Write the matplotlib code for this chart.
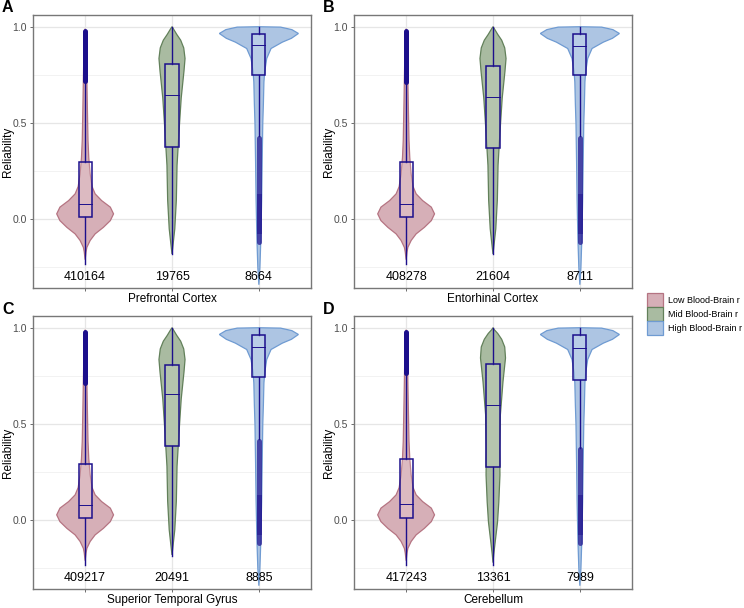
import matplotlib.pyplot as plt
from matplotlib.patches import Patch, Rectangle

plt.rcParams["font.family"] = ["Liberation Sans", "DejaVu Sans"]

# ---- data ----
panels = ["A", "B", "C", "D"]
regions = ["Prefrontal Cortex", "Entorhinal Cortex", "Superior Temporal Gyrus", "Cerebellum"]
groups = ["Low Blood-Brain r", "Mid Blood-Brain r", "High Blood-Brain r"]
counts = [[410164, 19765, 8664],
          [408278, 21604, 8711],
          [409217, 20491, 8885],
          [417243, 13361, 7989]]

# box stats per panel per group: (lower whisker, q1, median, q3, upper whisker)
box_stats = [
    [(-0.23, 0.01, 0.08, 0.30, 0.72), (-0.18, 0.375, 0.645, 0.805, 1.0), (0.43, 0.747, 0.905, 0.96, 1.0)],
    [(-0.23, 0.01, 0.08, 0.295, 0.715), (-0.18, 0.372, 0.637, 0.797, 1.0), (0.43, 0.747, 0.90, 0.96, 1.0)],
    [(-0.23, 0.012, 0.078, 0.294, 0.713), (-0.185, 0.386, 0.654, 0.805, 1.0), (0.42, 0.744, 0.899, 0.962, 1.0)],
    [(-0.23, 0.012, 0.082, 0.317, 0.765), (-0.23, 0.275, 0.598, 0.81, 1.0), (0.377, 0.727, 0.896, 0.962, 1.0)],
]
# outlier ranges (low group top, high group bottom)
low_outliers = [(0.72, 0.98), (0.715, 0.98), (0.713, 0.98), (0.765, 0.98)]
high_outliers = [(-0.12, 0.42), (-0.12, 0.42), (-0.12, 0.41), (-0.12, 0.37)]

# violin outlines: y levels and half widths (x units)
low_y = [-0.21, -0.17, -0.146, -0.11, -0.076, -0.042, -0.007, 0.028, 0.063, 0.097,
         0.132, 0.17, 0.236, 0.32, 0.41, 0.55, 0.7, 0.85, 0.95, 0.99]
low_w = [0.0, 0.01, 0.02, 0.058, 0.115, 0.21, 0.29, 0.327, 0.29, 0.19,
         0.115, 0.08, 0.058, 0.042, 0.033, 0.027, 0.021, 0.015, 0.01, 0.0]
mid_y = [-0.18, -0.12, -0.05, 0.1, 0.28, 0.45, 0.63, 0.77, 0.835, 0.89, 0.93, 0.96, 0.99, 1.0]
mid_w = [0.0, 0.015, 0.032, 0.05, 0.058, 0.08, 0.106, 0.138, 0.15, 0.135, 0.1, 0.055, 0.015, 0.0]
mid_y_d = [-0.22, -0.18, -0.113, -0.01, 0.095, 0.235, 0.374, 0.548, 0.72, 0.843, 0.9, 0.94, 0.97, 0.99, 1.0]
mid_w_d = [0.0, 0.008, 0.025, 0.052, 0.067, 0.08, 0.077, 0.085, 0.115, 0.144, 0.135, 0.1, 0.055, 0.015, 0.0]
high_y = [-0.34, -0.25, -0.11, 0.1, 0.3, 0.5, 0.6, 0.713, 0.766, 0.835, 0.887, 0.92, 0.94, 0.965, 0.985, 0.998, 1.0]
high_w = [0.0, 0.012, 0.022, 0.032, 0.038, 0.045, 0.052, 0.058, 0.067, 0.09, 0.14, 0.27, 0.375, 0.455, 0.38, 0.25, 0.0]

fills = ["#d6afb7", "#a9bba1", "#adc5e3"]
edges = ["#b57482", "#62805a", "#6f9bd2"]
navy = "#1c0f8c"

fig = plt.figure(figsize=(7.44, 6.08), dpi=100)
W, H = 744, 608
boxes = [(33, 15), (354, 15), (33, 316), (354, 316)]


def draw_violin(ax, x, ys, ws, fc, ec):
    xs = [x + w for w in ws] + [x - w for w in ws[::-1]]
    yy = list(ys) + list(ys[::-1])
    ax.fill(xs, yy, facecolor=fc, edgecolor=ec, lw=0.9, zorder=2)


for i, ax_name in enumerate(panels):
    left, top = boxes[i]
    ax = fig.add_axes([left / W, 1 - (top + 273) / H, 278 / W, 273 / H])
    ax.set_xlim(0.4, 3.6)
    ax.set_ylim(-0.357, 1.061)

    # grid
    for y in [0, 0.5, 1.0]:
        ax.axhline(y, color="#e6e6e6", lw=0.9, zorder=0)
    for y in [-0.25, 0.25, 0.75]:
        ax.axhline(y, color="#f0f0f0", lw=0.6, zorder=0)
    for x in [1, 2, 3]:
        ax.axvline(x, color="#e6e6e6", lw=0.9, zorder=0)

    profiles = [(low_y, low_w), (mid_y_d, mid_w_d) if ax_name == "D" else (mid_y, mid_w), (high_y, high_w)]
    for g in range(3):
        x = g + 1
        ys, ws = profiles[g]
        draw_violin(ax, x, ys, ws, fills[g], edges[g])
        lo, q1, med, q3, hi = box_stats[i][g]
        ax.plot([x, x], [lo, q1], color=navy, lw=1.0, zorder=3)
        ax.plot([x, x], [q3, hi], color=navy, lw=1.0, zorder=3)
        ax.add_patch(Rectangle((x - 0.075, q1), 0.15, q3 - q1, facecolor="white", alpha=0.15, zorder=3))
        ax.add_patch(Rectangle((x - 0.075, q1), 0.15, q3 - q1, facecolor="none", edgecolor=navy, lw=1.1, zorder=4))
        ax.plot([x - 0.075, x + 0.075], [med, med], color=navy, lw=0.7, zorder=4)
        ax.text(x, -0.30, f"{counts[i][g]}", ha="center", va="center", fontsize=9, zorder=5)

    # outliers
    a, b = low_outliers[i]
    ax.plot([1, 1], [a, b], color=navy, lw=3.6, solid_capstyle="round", zorder=5)
    a, b = high_outliers[i]
    ax.plot([3, 3], [a, b], color=navy, lw=3.6, alpha=0.7, solid_capstyle="round", zorder=5)
    ax.plot([3, 3], [-0.06, 0.12], color=navy, lw=3.6, alpha=0.5, zorder=5)

    ax.set_xticks([1, 2, 3])
    ax.set_xticklabels([])
    ax.set_yticks([0, 0.5, 1.0])
    ax.set_yticklabels(["0.0", "0.5", "1.0"])
    ax.tick_params(length=2.5, width=0.6, color="#555555", labelsize=7.5, labelcolor="#4d4d4d", pad=2)
    for s in ax.spines.values():
        s.set_color("#777777")
        s.set_linewidth(1.0)

    ax.text(0.5, -0.042, regions[i], transform=ax.transAxes, ha="center", va="center", fontsize=8.5)
    ax.text(-0.09, 0.5, "Reliability", transform=ax.transAxes, ha="center", va="center",
            rotation=90, fontsize=8.5)
    fig.text((left - 31) / W, 1 - (top - 7) / H, ax_name, fontsize=11.5, fontweight="bold",
             ha="left", va="center")

handles = [Patch(facecolor=fills[g], edgecolor=edges[g], lw=0.9) for g in range(3)]
fig.legend(handles, groups, loc="center left", bbox_to_anchor=(643 / W, 1 - 314 / H),
           frameon=False, fontsize=6.5, handlelength=1.85, handleheight=1.85,
           labelspacing=0.1, handletextpad=0.55, borderaxespad=0)

fig.savefig("out.png", dpi=100)
